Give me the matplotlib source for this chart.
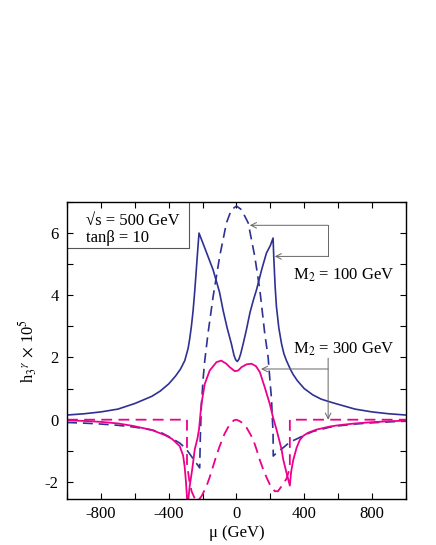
import numpy as np
import matplotlib
matplotlib.use("Agg")
import matplotlib.pyplot as plt
from matplotlib.ticker import MultipleLocator

plt.rcParams['font.family'] = ['Liberation Serif', 'DejaVu Serif']
plt.rcParams['mathtext.fontset'] = 'stix'
plt.rcParams['axes.unicode_minus'] = False

# M2 = 100 GeV, solid
x_b_sol = [-1000, -900, -800, -700, -600, -500, -450, -400, -360, -330, -305, -285,
           -276, -266, -256, -246, -236, -228, -221, -180, -138, -100, -79, -55, -30,
           -15, -5, 5, 15, 25, 40, 59, 80, 100, 118, 150, 177, 200, 216, 220, 228, 236, 250,
           266, 280, 295, 320, 335, 360, 400, 450, 500, 571, 700, 800, 900, 1000]
y_b_sol = [0.15, 0.19, 0.25, 0.34, 0.52, 0.75, 0.92, 1.15, 1.4, 1.63, 1.9, 2.3,
           2.6, 3.0, 3.5, 4.15, 4.9, 5.5, 6.0, 5.42, 4.82, 4.1, 3.52, 2.95, 2.44,
           2.08, 1.93, 1.87, 1.95, 2.12, 2.45, 2.9, 3.45, 3.85, 4.17, 4.85, 5.36, 5.6, 5.84, 5.25, 4.3, 3.63, 2.95,
           2.44, 2.12, 1.9, 1.6, 1.45, 1.25, 1.0, 0.8, 0.66, 0.54, 0.34, 0.25, 0.19, 0.15]

# M2 = 100 GeV, dashed
x_b_das = [-1000, -900, -800, -700, -600, -500, -450, -394, -335, -300, -276, -250, -230,
           -217, -213, -207, -197, -187, -168, -138, -99, -59, -30, 0, 30, 69, 108,
           138, 167, 187, 197, 207, 212, 216, 217, 240, 276, 315, 355, 400, 450, 551,
           600, 700, 800, 900, 1000]
y_b_das = [-0.09, -0.11, -0.14, -0.18, -0.24, -0.33, -0.4, -0.56, -0.75, -0.92, -1.1, -1.3, -1.45,
           -1.55, -0.5, 0.45, 1.3, 1.9, 2.77, 3.95, 5.25, 6.33, 6.75, 6.87, 6.75, 6.33, 5.25,
           4.17, 2.77, 2.0, 1.3, 0.66, 0.0, -0.41, -1.17, -1.05, -0.9, -0.72, -0.62, -0.5, -0.38, -0.24,
           -0.2, -0.14, -0.1, -0.07, -0.05]

# M2 = 300 GeV, solid
x_p_sol = [-1000, -900, -800, -700, -611, -500, -420, -380, -335, -315, -306, -298,
           -292, -288, -283, -276, -260, -246, -230, -221, -207, -187, -158, -118, -90,
           -60, -40, -10, 10, 30, 60, 89, 115, 138, 167, 197, 216, 236, 266, 276, 295,
           315, 322, 335, 355, 374, 394, 423, 471, 551, 600, 700, 800, 900, 1000]
y_p_sol = [-0.02, -0.04, -0.07, -0.12, -0.2, -0.33, -0.5, -0.62, -0.85, -1.15, -1.5, -2.0,
           -2.5, -3.0, -2.5, -2.14, -1.55, -0.95, -0.6, -0.31, 0.5, 1.15, 1.58, 1.85, 1.9,
           1.8, 1.69, 1.56, 1.58, 1.69, 1.78, 1.8, 1.72, 1.53, 1.04, 0.5, 0.07, -0.31, -0.95, -1.28, -1.7,
           -2.12, -1.7, -1.3, -0.9, -0.65, -0.52, -0.42, -0.32, -0.22, -0.18, -0.12, -0.08, -0.05, -0.03]

# M2 = 300 GeV, dashed
x_p_das = [-1000, -292, -292, -280, -265, -245, -228, -205, -177, -158, -138, -118, -99,
           -70, -40, -15, 0, 20, 40, 59, 80, 98, 118, 138, 158, 177, 200, 226, 245,
           266, 295, 315, 315, 1000]
y_p_das = [0.0, 0.0, -1.4, -1.9, -2.3, -2.55, -2.62, -2.45, -2.14, -1.85, -1.5, -1.15, -0.85,
           -0.45, -0.15, -0.02, 0.0, -0.05, -0.12, -0.25, -0.45, -0.63, -0.95, -1.3, -1.6, -1.85, -2.12, -2.3, -2.3,
           -2.14, -1.9, -1.55, 0.0, 0.0]

blue = '#2e3192'
pink = '#ec008c'

fig = plt.figure(figsize=(4.36, 5.45), dpi=100)
ax = fig.add_axes([0.1537, 0.0844, 0.931 - 0.1537, 0.6294 - 0.0844])

ax.plot(x_b_sol, y_b_sol, color=blue, lw=1.2)
ax.plot(x_b_das, y_b_das, color=blue, lw=1.2, dashes=(6, 3.5))
ax.plot(x_p_sol, y_p_sol, color=pink, lw=1.3)
ax.plot(x_p_das, y_p_das, color=pink, lw=1.3, dashes=(6, 3.5))

ax.set_xlim(-1000, 1000)
ax.set_ylim(-2.55, 7)
ax.xaxis.set_major_locator(MultipleLocator(400))
ax.xaxis.set_minor_locator(MultipleLocator(200))
ax.yaxis.set_major_locator(MultipleLocator(2))
ax.yaxis.set_minor_locator(MultipleLocator(1))
ax.tick_params(which='both', direction='in', top=True, right=True, length=4, width=0.8,
               labelsize=12)
ax.tick_params(axis='x', pad=5)
ax.tick_params(axis='y', pad=6)
for s in ax.spines.values():
    s.set_linewidth(1.0)

ax.set_xlabel('μ (GeV)', fontsize=12, labelpad=2)
ax.set_ylabel(r'h$_3$$^{\gamma}$ $\times$ 10$^5$', fontsize=12, labelpad=4)

# parameter box
ax.plot([-1000, -282, -282], [5.52, 5.52, 7], color='#555555', lw=0.8)
ax.text(-890, 6.38, '√s = 500 GeV', fontsize=12, va='center')
ax.text(-890, 5.85, 'tanβ = 10', fontsize=12, va='center')

# labels with arrows
gray = '#666666'
aprops = dict(arrowstyle='->', color=gray, lw=0.7, shrinkA=0, shrinkB=0)
ax.plot([541, 541], [6.25, 5.25], color=gray, lw=0.7)
ax.annotate('', xy=(79, 6.25), xytext=(541, 6.25), arrowprops=aprops)
ax.annotate('', xy=(226, 5.25), xytext=(541, 5.25), arrowprops=aprops)
ax.text(634, 4.64, r'M$_2$ = 100 GeV', fontsize=12, ha='center', va='center')

ax.text(634, 2.25, r'M$_2$ = 300 GeV', fontsize=12, ha='center', va='center')
ax.annotate('', xy=(145, 1.63), xytext=(541, 1.63), arrowprops=aprops)
ax.annotate('', xy=(541, 0.0), xytext=(541, 1.98), arrowprops=aprops)

fig.savefig('out.png', dpi=100)
